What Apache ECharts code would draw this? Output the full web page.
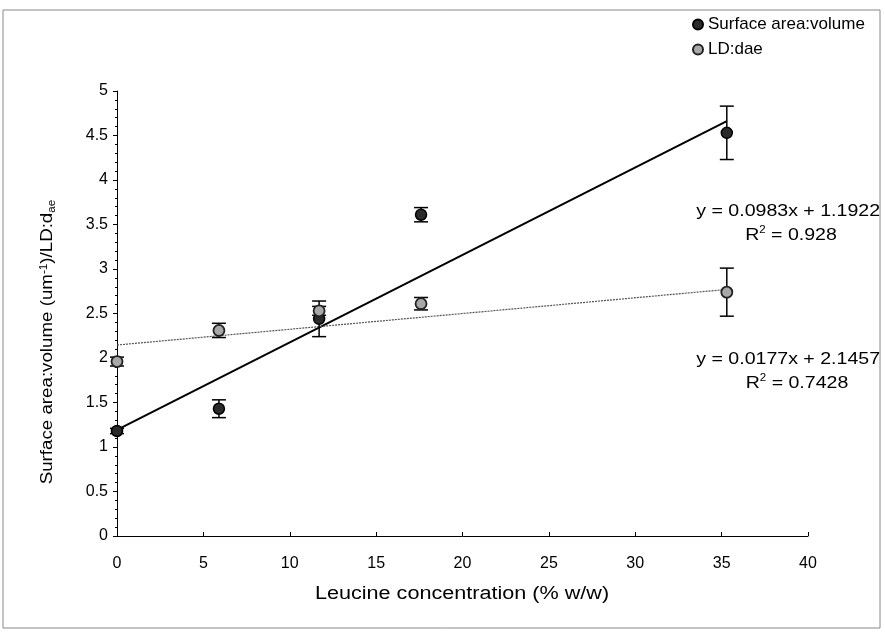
<!DOCTYPE html>
<html>
<head>
<meta charset="utf-8">
<script src="https://cdn.jsdelivr.net/npm/echarts@6/dist/echarts.min.js"></script>
<style>
  html, body { margin: 0; padding: 0; background: #fff; }
  #chart { width: 885px; height: 632px; }
</style>
</head>
<body>
<div id="chart"></div>
<script>
// Leucine concentration (% w/w)
const leucine = [0, 5.9, 11.7, 17.6, 35.3];

// Surface area:volume means and standard deviations
const saVolume = [1.18, 1.43, 2.44, 3.61, 4.53];
const saVolumeErr = [0.03, 0.1, 0.2, 0.08, 0.3];

// LD:dae means and standard deviations
const ldDae = [1.96, 2.31, 2.53, 2.61, 2.74];
const ldDaeErr = [0.05, 0.08, 0.05, 0.07, 0.27];

// Linear fit coefficients [slope, intercept, R²]
const saFit = [0.0983, 1.1922, 0.928];
const ldFit = [0.0177, 2.1457, 0.7428];

const xTicks = { min: 0, max: 40, interval: 5 };
const yTicks = { min: 0, max: 5, interval: 0.5 };

const FONT = 'Liberation Sans, Arial, sans-serif';
const WIDE = 1.15; // horizontal stretch for the wide annotation lettering

function fitLine(fit) {
  const xs = [Math.min(...leucine), Math.max(...leucine)];
  return xs.map(x => [x, fit[0] * x + fit[1]]);
}

function errData(vals, errs) {
  return leucine.map((x, i) => [x, vals[i] - errs[i], vals[i] + errs[i]]);
}

function errorBarItem(params, api) {
  const x = api.value(0);
  const lo = api.coord([x, api.value(1)]);
  const hi = api.coord([x, api.value(2)]);
  const hw = 7;
  const style = { stroke: '#000', lineWidth: 1.5 };
  return {
    type: 'group',
    children: [
      { type: 'line', shape: { x1: lo[0], y1: lo[1], x2: hi[0], y2: hi[1] }, style },
      { type: 'line', shape: { x1: lo[0] - hw, y1: lo[1], x2: lo[0] + hw, y2: lo[1] }, style },
      { type: 'line', shape: { x1: hi[0] - hw, y1: hi[1], x2: hi[0] + hw, y2: hi[1] }, style }
    ]
  };
}

function eqText(fit, x, y) {
  return {
    type: 'text', x, y, scaleX: WIDE,
    style: {
      text: 'y = ' + fit[0] + 'x + ' + fit[1],
      font: '17px ' + FONT, fill: '#000',
      align: 'right', verticalAlign: 'middle'
    }
  };
}

function r2Text(fit, x, y) {
  return {
    type: 'text', x, y, scaleX: WIDE,
    style: {
      text: '{t|R}{s|2}{t| = ' + fit[2] + '}',
      align: 'center', verticalAlign: 'middle',
      rich: {
        t: { fontFamily: FONT, fontSize: 17, fill: '#000' },
        s: { fontFamily: FONT, fontSize: 10, fill: '#000', padding: [0, 0, 9, 0] }
      }
    }
  };
}

const chart = echarts.init(document.getElementById('chart'));

chart.setOption({
  backgroundColor: '#fff',
  animation: false,
  textStyle: { fontFamily: FONT },
  grid: { left: 117, right: 77, top: 91, bottom: 96 },
  legend: {
    data: ['Surface area:volume', 'LD:dae'],
    orient: 'vertical',
    left: 687,
    top: 11,
    itemWidth: 10,
    itemHeight: 10,
    itemGap: 8,
    textStyle: { fontFamily: FONT, fontSize: 17, color: '#000' }
  },
  xAxis: {
    type: 'value',
    min: xTicks.min, max: xTicks.max, interval: xTicks.interval,
    axisLine: { lineStyle: { color: '#000', width: 1 } },
    axisTick: { show: true, inside: true, length: 4, lineStyle: { color: '#000' } },
    axisLabel: { fontFamily: FONT, fontSize: 16, color: '#000', margin: 20 },
    splitLine: { show: false }
  },
  yAxis: {
    type: 'value',
    min: yTicks.min, max: yTicks.max, interval: yTicks.interval,
    axisLine: { show: true, lineStyle: { color: '#000', width: 1 } },
    axisTick: { show: true, length: 4, lineStyle: { color: '#000' } },
    minorTick: { show: true, splitNumber: 5, length: 2, lineStyle: { color: '#000' } },
    axisLabel: { fontFamily: FONT, fontSize: 16, color: '#000', margin: 9 },
    splitLine: { show: false }
  },
  series: [
    {
      name: 'SA trend',
      type: 'line',
      data: fitLine(saFit),
      symbol: 'none',
      lineStyle: { color: '#000', width: 2 },
      z: 2
    },
    {
      name: 'LD trend',
      type: 'line',
      data: fitLine(ldFit),
      symbol: 'none',
      lineStyle: { color: '#555', width: 1.2, type: [2, 1] },
      z: 2
    },
    {
      name: 'SA err',
      type: 'custom',
      renderItem: errorBarItem,
      data: errData(saVolume, saVolumeErr),
      encode: { x: 0, y: [1, 2] },
      z: 3
    },
    {
      name: 'LD err',
      type: 'custom',
      renderItem: errorBarItem,
      data: errData(ldDae, ldDaeErr),
      encode: { x: 0, y: [1, 2] },
      z: 3
    },
    {
      name: 'Surface area:volume',
      type: 'scatter',
      data: leucine.map((x, i) => [x, saVolume[i]]),
      symbol: 'circle',
      symbolSize: 11,
      itemStyle: { color: '#2a2a2a', borderColor: '#000', borderWidth: 1.5, opacity: 1 },
      z: 5
    },
    {
      name: 'LD:dae',
      type: 'scatter',
      data: leucine.map((x, i) => [x, ldDae[i]]),
      symbol: 'circle',
      symbolSize: 11,
      itemStyle: { color: '#a8a8a8', borderColor: '#222', borderWidth: 1.8, opacity: 1 },
      z: 5
    }
  ],
  graphic: [
    {
      type: 'rect',
      shape: { x: 3, y: 10, width: 877, height: 618 },
      style: { fill: 'none', stroke: '#888', lineWidth: 1 },
      silent: true
    },
    {
      // x-axis title
      type: 'text',
      x: 462, y: 594, scaleX: 1.2,
      style: {
        text: 'Leucine concentration (% w/w)',
        font: '18px ' + FONT, fill: '#000',
        align: 'center', verticalAlign: 'middle'
      }
    },
    {
      // y-axis title, rotated
      type: 'text',
      x: 48, y: 342,
      rotation: Math.PI / 2,
      scaleX: 1.17,
      style: {
        text: '{t|Surface area:volume (um}{sup|-1}{t|)/LD:d}{sub|ae}',
        align: 'center',
        verticalAlign: 'middle',
        rich: {
          t: { fontFamily: FONT, fontSize: 16, fill: '#000' },
          sup: { fontFamily: FONT, fontSize: 10, fill: '#000', padding: [0, 0, 8, 0] },
          sub: { fontFamily: FONT, fontSize: 10, fill: '#000', padding: [8, 0, 0, 0] }
        }
      }
    },
    eqText(saFit, 880, 211),
    r2Text(saFit, 791, 235),
    eqText(ldFit, 880, 359),
    r2Text(ldFit, 797, 383)
  ]
});
</script>
</body>
</html>
